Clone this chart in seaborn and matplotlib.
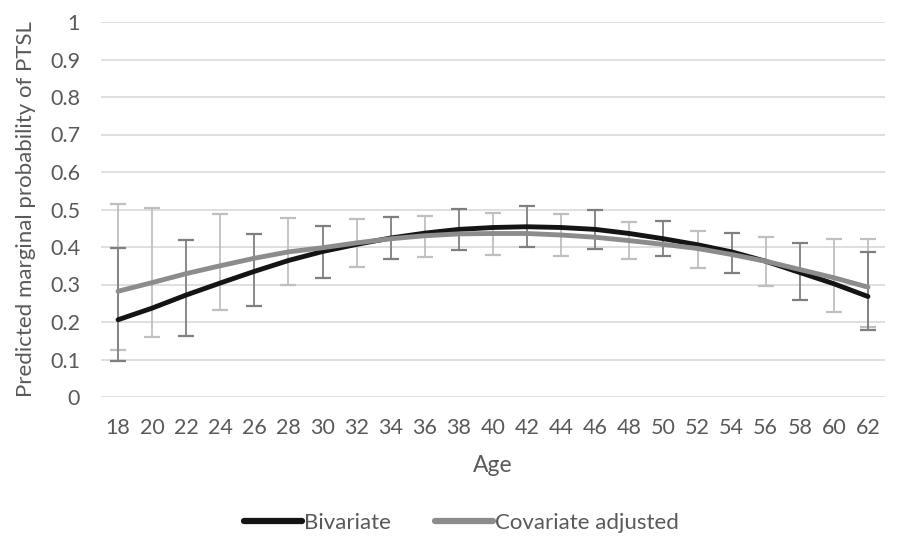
import matplotlib
matplotlib.use("Agg")
import matplotlib.pyplot as plt
import seaborn as sns
import pandas as pd

# values
ages = [18, 20, 22, 24, 26, 28, 30, 32, 34, 36, 38, 40,
        42, 44, 46, 48, 50, 52, 54, 56, 58, 60, 62]
bivariate = [0.206, 0.237, 0.272, 0.304, 0.335, 0.364, 0.388, 0.407, 0.424, 0.437, 0.447, 0.452,
             0.454, 0.452, 0.447, 0.436, 0.422, 0.406, 0.387, 0.362, 0.332, 0.302, 0.268]
covariate = [0.282, 0.305, 0.329, 0.350, 0.370, 0.387, 0.398, 0.411, 0.422, 0.430, 0.435, 0.436,
             0.436, 0.432, 0.426, 0.417, 0.407, 0.396, 0.380, 0.362, 0.340, 0.318, 0.293]

# confidence intervals (only shown at some ages)
biv_ci_ages = [18, 22, 26, 30, 34, 38, 42, 46, 50, 54, 58, 62]
biv_lower = [0.095, 0.162, 0.244, 0.317, 0.369, 0.393, 0.401, 0.396, 0.375, 0.332, 0.260, 0.178]
biv_upper = [0.397, 0.418, 0.436, 0.455, 0.479, 0.501, 0.509, 0.499, 0.470, 0.438, 0.412, 0.388]

cov_ci_ages = [18, 20, 24, 28, 32, 36, 40, 44, 48, 52, 56, 60, 62]
cov_lower = [0.126, 0.160, 0.231, 0.300, 0.348, 0.373, 0.379, 0.376, 0.367, 0.344, 0.296, 0.227, 0.188]
cov_upper = [0.515, 0.504, 0.488, 0.477, 0.476, 0.484, 0.492, 0.488, 0.468, 0.444, 0.426, 0.421, 0.421]

series = ["Bivariate", "Covariate adjusted"]
line_colors = {"Bivariate": "#141414", "Covariate adjusted": "#8c8c8c"}

df = pd.DataFrame({
    "Age": ages * 2,
    "prob": bivariate + covariate,
    "model": [series[0]] * len(ages) + [series[1]] * len(ages),
})

sns.set_theme(style="white")
plt.rcParams["font.family"] = ["Lato", "DejaVu Sans"]
text_col = "#595959"

fig = plt.figure(figsize=(9.14, 5.38), dpi=100)
ax = fig.add_axes([101 / 914, 1 - 397 / 538, 784 / 914, 375 / 538])

# error bars
biv_map = dict(zip(ages, bivariate))
cov_map = dict(zip(ages, covariate))
biv_y = [biv_map[a] for a in biv_ci_ages]
cov_y = [cov_map[a] for a in cov_ci_ages]
ax.errorbar(cov_ci_ages, cov_y,
            yerr=[[y - lo for y, lo in zip(cov_y, cov_lower)], [hi - y for y, hi in zip(cov_y, cov_upper)]],
            fmt="none", ecolor="#bfbfbf", elinewidth=1.3, capsize=6, capthick=1.6, zorder=2)
ax.errorbar(biv_ci_ages, biv_y,
            yerr=[[y - lo for y, lo in zip(biv_y, biv_lower)], [hi - y for y, hi in zip(biv_y, biv_upper)]],
            fmt="none", ecolor="#7f7f7f", elinewidth=1.3, capsize=6, capthick=1.6, zorder=2)

sns.lineplot(data=df, x="Age", y="prob", hue="model", palette=line_colors,
             linewidth=3.5, ax=ax, legend=False, zorder=3)

ax.set_xlim(17, 63)
ax.set_ylim(0, 1)
ax.set_xticks(ages)
ax.set_xticklabels([str(a) for a in ages])
yt = [i / 10 for i in range(11)]
ax.set_yticks(yt)
ax.set_yticklabels(["0", "0.1", "0.2", "0.3", "0.4", "0.5", "0.6", "0.7", "0.8", "0.9", "1"])
ax.grid(axis="y", color="#d9d9d9", linewidth=1.2, zorder=0)
ax.set_axisbelow(True)
for s in ax.spines.values():
    s.set_visible(False)
ax.tick_params(axis="both", length=0, labelsize=15.5, labelcolor=text_col)
ax.tick_params(axis="x", pad=15)
ax.tick_params(axis="y", pad=15)
ax.set_xlabel("Age", fontsize=16.5, color=text_col, labelpad=12)
ax.set_ylabel("Predicted marginal probability of PTSL", fontsize=16, color=text_col, labelpad=10)

handles = [plt.Line2D([], [], color=line_colors[s], linewidth=4.5, solid_capstyle="round") for s in series]
fig.legend(handles, series, loc="center", bbox_to_anchor=(0.505, 1 - 523 / 538), ncol=2,
           frameon=False, fontsize=16, labelcolor=text_col, handlelength=2.6,
           handletextpad=0.1, columnspacing=2.0)

fig.savefig("out.png", dpi=100)
